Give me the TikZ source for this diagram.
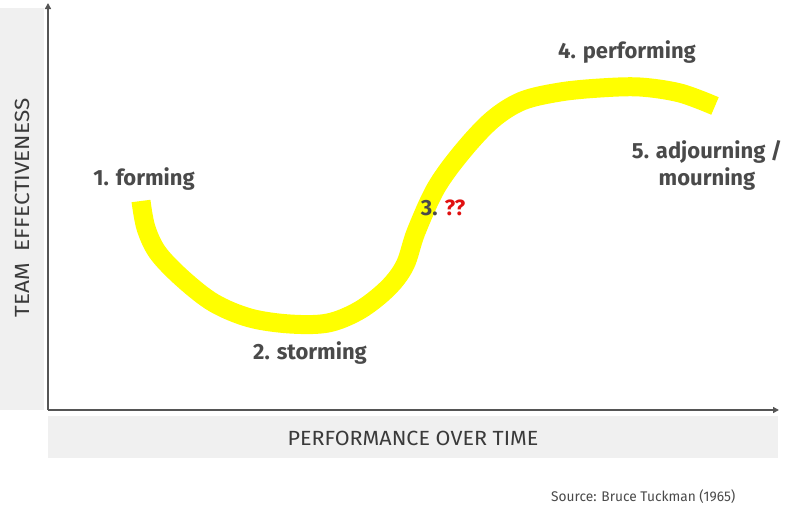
\documentclass[tikz,border=0pt]{standalone}
\usepackage{fontspec}
\setmainfont{Fira Sans}
\usetikzlibrary{arrows.meta}
\definecolor{axgray}{HTML}{555555}
\definecolor{band}{HTML}{F0F0F0}
\definecolor{txt}{HTML}{4A4A4A}
\definecolor{axtxt}{HTML}{3A3A3A}
\definecolor{qred}{HTML}{E01010}
\definecolor{hl}{HTML}{FFFF00}
\tikzset{
  stage/.style={text=txt,font=\bfseries\fontsize{22}{27}\selectfont,align=center,inner sep=0pt},
  axlabel/.style={text=axtxt,font=\fontsize{20.5}{24}\selectfont,inner sep=0pt},
  axis/.style={draw=axgray,line width=2pt,-{Triangle[length=6pt,width=6pt]}},
}
\begin{document}
\begin{tikzpicture}[x=1pt,y=-1pt]
\useasboundingbox (0,0) rectangle (800,514);
\fill[band] (0,8) rectangle (44,410);
\fill[band] (48,416) rectangle (778,458);
\coordinate (o) at (48,410);
\coordinate (ytop) at (48,3);
\coordinate (xend) at (779,410);
\draw[axis] (o) -- (ytop);
\draw[axis] (o) -- (xend);
\node[axlabel,rotate=90,xscale=1.1] (ylab) at (22,208) {TEAM\ \ EFFECTIVENESS};
\node[axlabel,xscale=1.05] (xlab) at (413,438) {PERFORMANCE OVER TIME};
\node[text=txt,font=\fontsize{14}{16}\selectfont,inner sep=0pt,anchor=west,xscale=0.98] (src) at (551,497) {Source: Bruce Tuckman (1965)};
\draw[hl,line width=19pt,line cap=butt,line join=round] plot[smooth,tension=0.55] coordinates {
 (141,201) (146,228) (158,253) (183,279) (214,303) (250,318) (290,324) (328,323)
 (360,310) (388,288) (405,265) (416,232) (436,188) (462,152) (492,120) (522,101)
 (560,92) (600,88) (640,87) (680,93) (715,106)};
\node[stage] (s1) at (144,179) {1. forming};
\node[stage] (s2) at (310,353) {2. storming};
\node[stage] (s3) at (443,208) {3. \textcolor{qred}{??}};
\node[stage] (s4) at (627,52) {4. performing};
\node[stage] (s5) at (707,165) {5. adjourning /\\mourning};
\end{tikzpicture}
\end{document}
